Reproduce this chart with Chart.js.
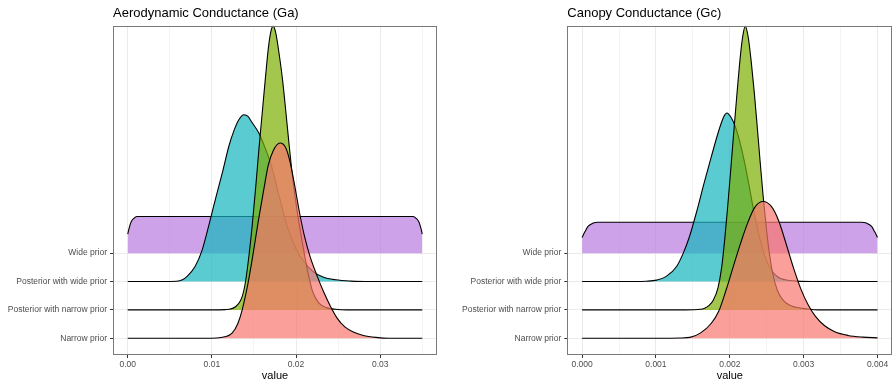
<!DOCTYPE html>
<html>
<head>
<meta charset="utf-8">
<script src="https://cdn.jsdelivr.net/npm/chart.js@4.4.0/dist/chart.umd.min.js"></script>
<style>
  html, body { margin: 0; padding: 0; background: #ffffff; }
  #wrap { position: relative; width: 893px; height: 385px; overflow: hidden; background: #ffffff; }
  canvas { position: absolute; top: 0; }
  #ga { left: 0; }
  #gc { left: 447px; }
</style>
</head>
<body>
<div id="wrap">
  <canvas id="ga" width="445" height="385"></canvas>
  <canvas id="gc" width="446" height="385"></canvas>
</div>
<script>
// Ridge rows, bottom to top
const categories = ['Narrow prior', 'Posterior with narrow prior', 'Posterior with wide prior', 'Wide prior'];
const seriesColors = ['#F8766D', '#7CAE00', '#14B7BD', '#B87ADE'];

// Aerodynamic conductance densities: [value, ridge height above the row]
const gaNarrowPrior = [[0,0],[0.009,0],[0.0106,0.01],[0.0115,0.05],[0.0124,0.18],[0.0131,0.53],[0.0136,1.0],[0.0143,1.95],[0.0148,2.8],[0.0155,4.1],[0.0162,5.3],[0.0167,6.1],[0.0173,6.62],[0.0181,6.88],[0.0188,6.7],[0.0193,6.2],[0.0198,5.45],[0.0204,4.45],[0.0210,3.6],[0.0217,2.85],[0.0225,2.2],[0.0233,1.62],[0.0241,1.12],[0.0249,0.7],[0.0258,0.4],[0.0268,0.22],[0.0280,0.1],[0.0295,0.03],[0.031,0],[0.035,0]];
const gaPostNarrow = [[0,0],[0.010,0],[0.0116,0.01],[0.0128,0.11],[0.0136,0.47],[0.0140,1.0],[0.0144,1.9],[0.0148,3.0],[0.0152,4.3],[0.0156,5.7],[0.0160,7.0],[0.0164,8.3],[0.0167,9.2],[0.0170,9.8],[0.01728,10.0],[0.0176,9.75],[0.0180,9.0],[0.0184,8.1],[0.0188,6.95],[0.0192,5.75],[0.0196,4.65],[0.0200,3.75],[0.0205,2.8],[0.0210,1.95],[0.0215,1.2],[0.0220,0.62],[0.0227,0.25],[0.0236,0.08],[0.0247,0.02],[0.026,0],[0.035,0]];
const gaPostWide = [[0,0],[0.004,0],[0.0058,0.01],[0.0065,0.06],[0.00705,0.18],[0.0080,0.53],[0.00883,1.1],[0.0099,2.29],[0.0104,2.88],[0.0113,3.9],[0.0120,4.75],[0.0126,5.3],[0.0132,5.7],[0.0138,5.88],[0.0143,5.82],[0.01467,5.65],[0.01557,5.24],[0.0160,4.95],[0.0170,4.15],[0.0180,3.0],[0.0190,1.9],[0.0200,1.15],[0.0210,0.68],[0.0220,0.36],[0.0232,0.16],[0.0247,0.06],[0.0265,0.015],[0.029,0],[0.035,0]];
const gaWidePrior = [[0,0.67],[0.0002,0.92],[0.0004,1.1],[0.0007,1.22],[0.0011,1.29],[0.0339,1.29],[0.0343,1.22],[0.0346,1.1],[0.0348,0.92],[0.035,0.67]];

// Canopy conductance densities: [value, ridge height above the row]
const gcNarrowPrior = [[0,0],[0.0011,0],[0.00133,0.01],[0.00146,0.03],[0.0016,0.18],[0.00175,0.53],[0.00185,0.95],[0.00195,1.7],[0.00205,2.55],[0.00215,3.38],[0.00225,4.12],[0.00234,4.62],[0.00245,4.82],[0.00257,4.62],[0.00266,4.15],[0.00276,3.35],[0.00286,2.5],[0.00296,1.75],[0.00306,1.18],[0.00316,0.77],[0.00328,0.45],[0.00342,0.23],[0.0036,0.1],[0.0038,0.04],[0.004,0.015]];
const gcPostNarrow = [[0,0],[0.0014,0],[0.0016,0.02],[0.00166,0.06],[0.00172,0.16],[0.00178,0.36],[0.00184,0.78],[0.00189,1.5],[0.00193,2.45],[0.00197,3.6],[0.00201,4.85],[0.00205,6.15],[0.00209,7.4],[0.00213,8.6],[0.00217,9.55],[0.00221,10.0],[0.00225,9.6],[0.00229,8.75],[0.00233,7.7],[0.00237,6.5],[0.00241,5.25],[0.00245,4.05],[0.00249,3.0],[0.00253,2.1],[0.00258,1.3],[0.00264,0.72],[0.00271,0.38],[0.0028,0.18],[0.0029,0.09],[0.00305,0.03],[0.0032,0],[0.004,0]];
const gcPostWide = [[0,0],[0.0007,0],[0.00087,0.01],[0.00101,0.05],[0.00114,0.18],[0.00128,0.53],[0.00137,1.0],[0.00145,1.55],[0.00155,2.45],[0.00165,3.45],[0.00175,4.4],[0.00182,5.05],[0.00188,5.55],[0.00192,5.82],[0.00196,5.94],[0.00202,5.77],[0.00208,5.42],[0.00214,4.88],[0.0022,4.2],[0.00226,3.4],[0.00232,2.55],[0.00238,1.8],[0.00244,1.18],[0.0025,0.72],[0.00257,0.38],[0.00265,0.16],[0.00275,0.06],[0.0029,0.015],[0.0032,0],[0.004,0]];
const gcWidePrior = [[0,0.55],[0.00004,0.76],[0.00008,0.94],[0.00015,1.06],[0.00022,1.09],[0.00378,1.09],[0.00385,1.06],[0.00392,0.94],[0.00396,0.76],[0.004,0.55]];

// Axis ticks
const gaMajorTicks = [0, 0.01, 0.02, 0.03];
const gaTickLabels = ['0.00', '0.01', '0.02', '0.03'];
const gaMinorTicks = [0.005, 0.015, 0.025, 0.035];
const gcMajorTicks = [0, 0.001, 0.002, 0.003, 0.004];
const gcTickLabels = ['0.000', '0.001', '0.002', '0.003', '0.004'];
const gcMinorTicks = [0.0005, 0.0015, 0.0025, 0.0035];

Chart.defaults.font.family = "'Liberation Sans', Arial, Helvetica, sans-serif";

function withAlpha(hex, a) {
  const n = parseInt(hex.slice(1), 16);
  return `rgba(${(n >> 16) & 255},${(n >> 8) & 255},${n & 255},${a})`;
}

// grey frame drawn over the ridges
const panelBorder = {
  id: 'panelBorder',
  afterDatasetsDraw(chart) {
    const { ctx, chartArea: a } = chart;
    ctx.save();
    ctx.strokeStyle = '#7a7a7a';
    ctx.lineWidth = 1;
    const l = Math.round(a.left) + 0.5, t = Math.round(a.top) + 0.5;
    const r = Math.round(a.right) - 0.5, b = Math.round(a.bottom) - 0.5;
    ctx.strokeRect(l, t, r - l, b - t);
    ctx.restore();
  }
};

function makePanel(id, title, curves, xMin, xMax, major, labels, minor, yAxisWidth, padRight) {
  const datasets = curves.map((pts, i) => ({
    label: categories[i],
    data: pts.map(([x, h]) => ({ x: x, y: i + 1 + h })),
    borderColor: '#000000',
    borderWidth: 1.1,
    backgroundColor: withAlpha(seriesColors[i], 0.7),
    fill: { value: i + 1 },
    pointRadius: 0,
    cubicInterpolationMode: 'monotone'
  }));
  return new Chart(document.getElementById(id), {
    type: 'line',
    data: { datasets: datasets },
    plugins: [panelBorder],
    options: {
      responsive: false,
      animation: false,
      events: [],
      layout: { padding: { left: 0, right: padRight, top: 0, bottom: 0 } },
      plugins: {
        legend: { display: false },
        tooltip: { enabled: false },
        title: {
          display: true, text: title, align: 'start', fullSize: false,
          color: '#000000', font: { size: 13, weight: 'normal' },
          padding: { top: 6, bottom: 4 }
        }
      },
      scales: {
        x: {
          type: 'linear', min: xMin, max: xMax,
          afterBuildTicks: s => {
            s.ticks = major.map(v => ({ value: v }))
              .concat(minor.map(v => ({ value: v, minor: true })))
              .sort((a, b) => a.value - b.value);
          },
          afterFit: s => { s.height = 30; },
          ticks: {
            autoSkip: false, maxRotation: 0, minRotation: 0,
            color: '#4d4d4d', font: { size: 8.5 }, padding: 2,
            callback: v => { const k = major.indexOf(v); return k < 0 ? '' : labels[k]; }
          },
          grid: {
            color: c => (c.tick && c.tick.minor) ? '#f4f4f4' : '#ebebeb',
            lineWidth: 1, drawTicks: true, tickLength: 3,
            tickColor: c => (c.tick && c.tick.minor) ? 'rgba(0,0,0,0)' : '#333333'
          },
          border: { display: false },
          title: { display: true, text: 'value', color: '#000000', font: { size: 11 }, padding: { top: 0, bottom: 2 } }
        },
        y: {
          type: 'linear', min: 0.41, max: 12.02,
          afterBuildTicks: s => { s.ticks = categories.map((c, i) => ({ value: i + 1 })); },
          afterFit: s => { s.width = yAxisWidth; },
          ticks: {
            autoSkip: false, color: '#4d4d4d', font: { size: 8.5 }, padding: 3,
            callback: v => categories[v - 1]
          },
          grid: { color: '#ebebeb', lineWidth: 1, drawTicks: true, tickLength: 3, tickColor: '#333333' },
          border: { display: false }
        }
      }
    }
  });
}

makePanel('ga', 'Aerodynamic Conductance (Ga)',
  [gaNarrowPrior, gaPostNarrow, gaPostWide, gaWidePrior],
  -0.00175, 0.03675, gaMajorTicks, gaTickLabels, gaMinorTicks, 113, 8);
makePanel('gc', 'Canopy Conductance (Gc)',
  [gcNarrowPrior, gcPostNarrow, gcPostWide, gcWidePrior],
  -0.0002, 0.0042, gcMajorTicks, gcTickLabels, gcMinorTicks, 120.3, 0.7);
</script>
</body>
</html>
